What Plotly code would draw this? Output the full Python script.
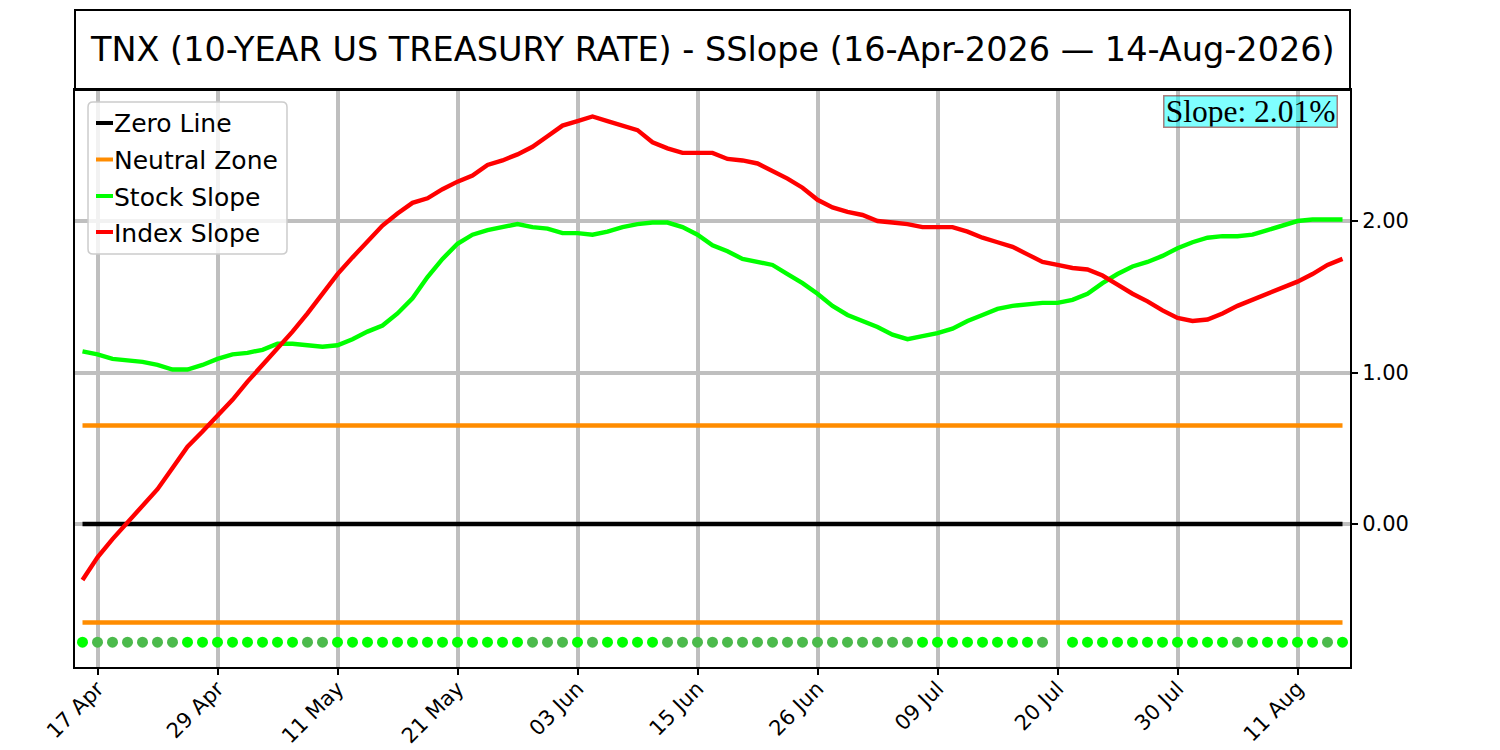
import plotly.graph_objects as go

# ---------------- data ----------------
index_slope = [-0.37, -0.22, -0.10, 0.01, 0.11, 0.23, 0.37, 0.51, 0.61, 0.71,
               0.82, 0.94, 1.05, 1.15, 1.27, 1.39, 1.52, 1.65, 1.76, 1.87,
               1.97, 2.05, 2.12, 2.15, 2.21, 2.26, 2.30, 2.37, 2.40, 2.44,
               2.49, 2.56, 2.63, 2.66, 2.69, 2.66, 2.63, 2.60, 2.52, 2.48,
               2.45, 2.45, 2.45, 2.41, 2.40, 2.38, 2.33, 2.28, 2.22, 2.14,
               2.09, 2.06, 2.04, 2.00, 1.99, 1.98, 1.96, 1.96, 1.96, 1.93,
               1.89, 1.86, 1.83, 1.78, 1.73, 1.71, 1.69, 1.68, 1.64, 1.58,
               1.52, 1.47, 1.41, 1.36, 1.34, 1.35, 1.39, 1.44, 1.48, 1.52,
               1.56, 1.60, 1.65, 1.71, 1.75]

stock_slope = [1.14, 1.12, 1.09, 1.08, 1.07, 1.05, 1.02, 1.02, 1.05, 1.09,
               1.12, 1.13, 1.15, 1.19, 1.19, 1.18, 1.17, 1.18, 1.22, 1.27,
               1.31, 1.39, 1.49, 1.63, 1.75, 1.85, 1.91, 1.94, 1.96, 1.98,
               1.96, 1.95, 1.92, 1.92, 1.91, 1.93, 1.96, 1.98, 1.99, 1.99,
               1.96, 1.91, 1.84, 1.80, 1.75, 1.73, 1.71, 1.65, 1.59, 1.52,
               1.44, 1.38, 1.34, 1.30, 1.25, 1.22, 1.24, 1.26, 1.29, 1.34,
               1.38, 1.42, 1.44, 1.45, 1.46, 1.46, 1.48, 1.52, 1.59, 1.65,
               1.70, 1.73, 1.77, 1.82, 1.86, 1.89, 1.90, 1.90, 1.91, 1.94,
               1.97, 2.00, 2.01, 2.01, 2.01]

# 1 = strong (bright green), 0 = weak (dark green), None = no signal
signal = [1, 0, 0, 0, 0, 0, 0, 1, 1, 1,
          1, 1, 1, 1, 1, 0, 0, 1, 1, 1,
          1, 1, 1, 1, 1, 1, 1, 1, 1, 1,
          0, 0, 0, 1, 0, 1, 1, 1, 1, 0,
          0, 0, 0, 0, 0, 0, 0, 0, 0, 0,
          0, 0, 0, 0, 0, 0, 1, 1, 1, 1,
          1, 1, 1, 1, 0, None, 1, 1, 1, 1,
          1, 1, 1, 1, 1, 1, 1, 0, 1, 1,
          1, 1, 1, 0, 1]

tick_index = [1, 9, 17, 25, 33, 41, 49, 57, 65, 73, 81]
tick_labels = ["17 Apr", "29 Apr", "11 May", "21 May", "03 Jun", "15 Jun",
               "26 Jun", "09 Jul", "20 Jul", "30 Jul", "11 Aug"]

y_ticks = [0, 1, 2]
zero_level = 0.0
neutral_level = 0.65
signal_level = -0.78

title_text = "TNX (10-YEAR US TREASURY RATE) - SSlope (16-Apr-2026 \u2014 14-Aug-2026)"
slope_text = "Slope: %.2f%%" % stock_slope[-1]
legend_labels = ["Zero Line", "Neutral Zone", "Stock Slope", "Index Slope"]
legend_colors = ["#000000", "#ff8c00", "#00ff00", "#ff0000"]

# ---------------- figure ----------------
x = list(range(len(stock_slope)))
OFF = 8  # page body offset
W, H = 1492, 742
ML, MR, MT, MB = 75 - OFF, 150, 90 - OFF, 83
PW, PH = W - ML - MR, H - MT - MB

def px(xp):
    return (xp - OFF - ML) / PW

def py(yp):
    return (H - MB - (yp - OFF)) / PH

fig = go.Figure()

LW = 4.4
fig.add_trace(go.Scatter(x=x, y=[zero_level] * len(x), mode="lines",
                         line=dict(color="#000000", width=LW), hoverinfo="skip"))
fig.add_trace(go.Scatter(x=x, y=[neutral_level] * len(x), mode="lines",
                         line=dict(color="#ff8c00", width=LW), hoverinfo="skip"))
fig.add_trace(go.Scatter(x=x, y=[-neutral_level] * len(x), mode="lines",
                         line=dict(color="#ff8c00", width=LW), hoverinfo="skip"))
fig.add_trace(go.Scatter(x=x, y=stock_slope, mode="lines",
                         line=dict(color="#00ff00", width=LW)))
fig.add_trace(go.Scatter(x=x, y=index_slope, mode="lines",
                         line=dict(color="#ff0000", width=LW)))

dot_x = [i for i, s in zip(x, signal) if s is not None]
dot_c = ["#00ff00" if s == 1 else "#4bba4b" for s in signal if s is not None]
fig.add_trace(go.Scatter(x=dot_x, y=[signal_level] * len(dot_x), mode="markers",
                         marker=dict(color=dot_c, size=11, line=dict(width=0))))

font = "DejaVu Sans"
axis_common = dict(showgrid=True, gridcolor="#bfbfbf", gridwidth=4,
                   showline=True, mirror=True, linecolor="#000000", linewidth=2,
                   zeroline=False, ticks="outside", ticklen=6, tickwidth=1.5,
                   tickcolor="#000000", tickfont=dict(family=font, size=21, color="#000000"))

fig.update_layout(
    width=W, height=H,
    margin=dict(l=ML, r=MR, t=MT, b=MB),
    plot_bgcolor="white", paper_bgcolor="white",
    showlegend=False,
    xaxis=dict(range=[-0.5, 84.5], tickmode="array", tickvals=tick_index,
               ticktext=tick_labels, tickangle=-45, automargin=False,
               ticklabelstandoff=-7, **axis_common),
    yaxis=dict(range=[-0.944, 2.865], side="right", tickmode="array",
               tickvals=y_ticks, tickformat=".2f", automargin=False, **axis_common),
)

shapes = []
annotations = []

# title box
shapes.append(dict(type="rect", xref="paper", yref="paper", x0=0, x1=1,
                   y0=1, y1=py(10), line=dict(color="#000000", width=2),
                   fillcolor="rgba(0,0,0,0)", layer="above"))
annotations.append(dict(text=title_text, xref="paper", yref="paper",
                        x=px(712.5), y=py(50), xanchor="center", yanchor="middle",
                        showarrow=False, font=dict(family=font, size=33.5, color="#000000")))

# slope box
annotations.append(dict(text=slope_text, xref="paper", yref="paper",
                        x=px(1338), y=py(95), xanchor="right", yanchor="top",
                        showarrow=False, bgcolor="rgba(0,255,255,0.5)",
                        width=172, height=30,
                        bordercolor="rgba(140,40,40,0.6)", borderwidth=1.5, borderpad=0,
                        font=dict(family="Liberation Serif", size=31.5, color="#000000")))

# legend box (rounded)
lx0, lx1, ly0, ly1, r = 88, 287, 102, 254, 5
def P(a, b):
    return "%.5f,%.5f" % (px(a), py(b))
path = ("M " + P(lx0 + r, ly0) + " L " + P(lx1 - r, ly0) + " Q " + P(lx1, ly0) + " " + P(lx1, ly0 + r) +
        " L " + P(lx1, ly1 - r) + " Q " + P(lx1, ly1) + " " + P(lx1 - r, ly1) +
        " L " + P(lx0 + r, ly1) + " Q " + P(lx0, ly1) + " " + P(lx0, ly1 - r) +
        " L " + P(lx0, ly0 + r) + " Q " + P(lx0, ly0) + " " + P(lx0 + r, ly0) + " Z")
shapes.append(dict(type="path", xref="paper", yref="paper", path=path,
                   fillcolor="rgba(255,255,255,0.8)", line=dict(color="#cccccc", width=1.5),
                   layer="above"))
rows = [123, 159.5, 196, 232]
for lab, col, ry in zip(legend_labels, legend_colors, rows):
    shapes.append(dict(type="line", xref="paper", yref="paper", x0=px(96), x1=px(113),
                       y0=py(ry), y1=py(ry), line=dict(color=col, width=4), layer="above"))
    annotations.append(dict(text=lab, xref="paper", yref="paper", x=px(112), y=py(ry + 1),
                            xanchor="left", yanchor="middle", showarrow=False,
                            font=dict(family=font, size=25, color="#000000")))

fig.update_layout(shapes=shapes, annotations=annotations)
fig.write_html("out.html")
